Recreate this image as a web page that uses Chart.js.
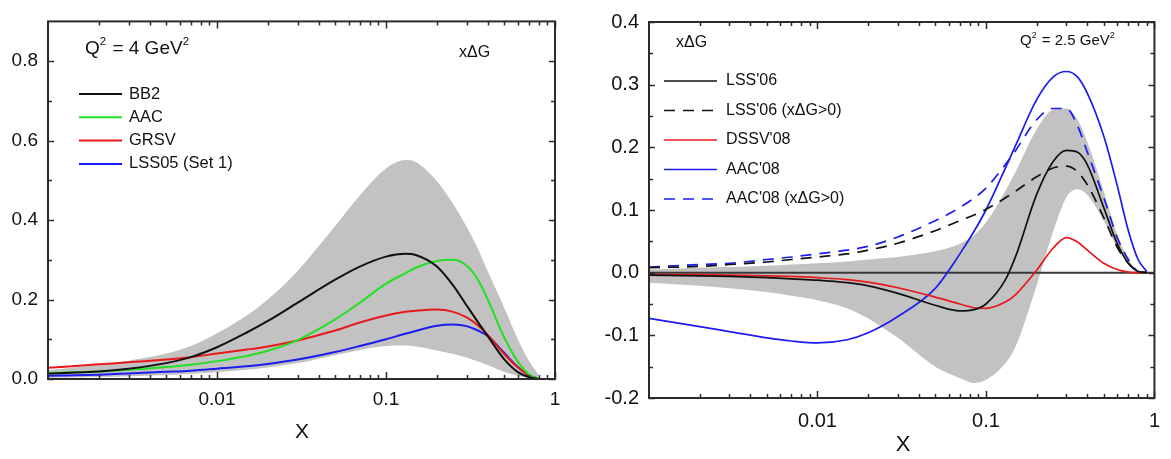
<!DOCTYPE html>
<html>
<head>
<meta charset="utf-8">
<script src="https://cdn.jsdelivr.net/npm/chart.js@4.4.1/dist/chart.umd.min.js"></script>
<style>
html, body { margin: 0; padding: 0; background: #fff; }
#wrap { position: relative; width: 1171px; height: 459px; overflow: hidden; }
#left { position: absolute; left: 0; top: 0; }
#right { position: absolute; left: 585px; top: 0; }
</style>
</head>
<body>
<div id="wrap">
<canvas id="left" width="585" height="459"></canvas>
<canvas id="right" width="586" height="459"></canvas>
</div>
<script>
// ---- left panel: Q^2 = 4 GeV^2 ----
const xLeft = [0.001, 0.002, 0.003, 0.005, 0.007, 0.01, 0.015, 0.02, 0.03, 0.05, 0.07, 0.1,
  0.13, 0.15, 0.2, 0.25, 0.3, 0.35, 0.4, 0.5, 0.6, 0.7, 0.8];
const bb2 = [0.014, 0.019, 0.026, 0.040, 0.055, 0.080, 0.117, 0.146, 0.192, 0.250, 0.283, 0.308,
  0.315, 0.312, 0.283, 0.235, 0.185, 0.143, 0.108, 0.050, 0.018, 0.005, 0];
const aac = [0.015, 0.019, 0.023, 0.030, 0.036, 0.045, 0.058, 0.071, 0.098, 0.150, 0.192, 0.240,
  0.266, 0.280, 0.297, 0.300, 0.285, 0.250, 0.200, 0.105, 0.045, 0.012, 0];
const grsv = [0.028, 0.037, 0.042, 0.049, 0.055, 0.064, 0.074, 0.082, 0.097, 0.122, 0.142, 0.160,
  0.169, 0.172, 0.175, 0.169, 0.155, 0.135, 0.111, 0.063, 0.030, 0.009, 0];
const lss05 = [0.008, 0.011, 0.014, 0.018, 0.021, 0.026, 0.032, 0.038, 0.049, 0.068, 0.083, 0.100,
  0.114, 0.121, 0.134, 0.137, 0.133, 0.122, 0.108, 0.066, 0.031, 0.010, 0];
const bandHiLeft = [0.022, 0.036, 0.046, 0.064, 0.083, 0.115, 0.160, 0.200, 0.272, 0.385, 0.462, 0.530,
  0.551, 0.546, 0.498, 0.440, 0.383, 0.327, 0.271, 0.180, 0.102, 0.046, 0.011];
const bandLoLeft = [0.003, 0.005, 0.007, 0.010, 0.013, 0.017, 0.023, 0.029, 0.040, 0.060, 0.073, 0.083,
  0.084, 0.082, 0.072, 0.063, 0.054, 0.044, 0.035, 0.018, 0.008, 0.002, 0];
const leftYTicks = [0, 0.2, 0.4, 0.6, 0.8];
const leftYMinor = [0.1, 0.3, 0.5, 0.7];

// ---- right panel: Q^2 = 2.5 GeV^2 ----
const xRight = [0.001, 0.002, 0.003, 0.005, 0.007, 0.01, 0.015, 0.02, 0.03, 0.05, 0.07, 0.085, 0.1,
  0.13, 0.15, 0.2, 0.25, 0.3, 0.35, 0.4, 0.5, 0.6, 0.7, 0.8, 0.9];
const lss06 = [-0.004, -0.005, -0.006, -0.008, -0.010, -0.012, -0.016, -0.021, -0.033, -0.052, -0.061, -0.059, -0.050,
  -0.012, 0.026, 0.125, 0.177, 0.195, 0.192, 0.172, 0.104, 0.047, 0.015, 0.002, 0];
const lss06Pos = [0.008, 0.010, 0.013, 0.017, 0.021, 0.025, 0.030, 0.036, 0.047, 0.067, 0.083, 0.092, 0.101,
  0.119, 0.130, 0.153, 0.167, 0.170, 0.161, 0.140, 0.088, 0.041, 0.015, 0.002, 0];
const dssv08 = [-0.003, -0.003, -0.004, -0.005, -0.006, -0.008, -0.011, -0.015, -0.024, -0.039, -0.050, -0.056, -0.057,
  -0.047, -0.035, 0.004, 0.039, 0.056, 0.049, 0.036, 0.015, 0.005, 0.001, 0, 0];
const aac08 = [-0.073, -0.086, -0.094, -0.104, -0.109, -0.112, -0.107, -0.096, -0.070, -0.025, 0.030, 0.066, 0.100,
  0.166, 0.203, 0.276, 0.312, 0.321, 0.312, 0.286, 0.218, 0.140, 0.067, 0.021, 0.002];
const aac08Pos = [0.009, 0.013, 0.015, 0.021, 0.025, 0.030, 0.036, 0.042, 0.057, 0.083, 0.104, 0.119, 0.135,
  0.172, 0.195, 0.244, 0.262, 0.262, 0.234, 0.192, 0.120, 0.057, 0.021, 0.002, 0];
const bandHiRight = [0.005, 0.008, 0.009, 0.011, 0.013, 0.015, 0.018, 0.021, 0.025, 0.034, 0.046, 0.060, 0.080,
  0.130, 0.161, 0.229, 0.260, 0.262, 0.244, 0.208, 0.130, 0.062, 0.021, 0.004, 0];
const bandLoRight = [-0.016, -0.021, -0.025, -0.031, -0.037, -0.044, -0.057, -0.073, -0.104, -0.150, -0.168, -0.176, -0.171,
  -0.145, -0.118, -0.020, 0.065, 0.120, 0.133, 0.124, 0.083, 0.041, 0.015, 0.002, 0];
const rightYTicks = [-0.2, -0.1, 0, 0.1, 0.2, 0.3, 0.4];
const rightYMinor = [-0.15, -0.05, 0.05, 0.15, 0.25, 0.35];

// shared x axis ticks
const xTicks = [0.01, 0.1, 1];
const xMinor = [0.002, 0.003, 0.004, 0.005, 0.006, 0.007, 0.008, 0.009,
  0.02, 0.03, 0.04, 0.05, 0.06, 0.07, 0.08, 0.09,
  0.2, 0.3, 0.4, 0.5, 0.6, 0.7, 0.8, 0.9];

const FONT = "'Liberation Sans', Arial, sans-serif";
const pts = (xs, ys) => xs.map((x, i) => ({ x: x, y: ys[i] }));

function curve(label, xs, ys, color, width, dash) {
  return {
    label: label, data: pts(xs, ys), borderColor: color, borderWidth: width,
    borderDash: dash || [], pointRadius: 0, fill: false, cubicInterpolationMode: 'monotone'
  };
}
function band(xs, ys, fill) {
  return {
    label: '', band: true, data: pts(xs, ys), borderWidth: 0, borderColor: 'rgba(0,0,0,0)',
    backgroundColor: '#c2c2c2', pointRadius: 0, fill: fill, cubicInterpolationMode: 'monotone'
  };
}

// draw text where parts flagged true are superscripts
function richText(ctx, parts, x, y, size) {
  let cx = x;
  parts.forEach(p => {
    const sup = p[1];
    ctx.font = (sup ? size * 0.6 : size) + 'px ' + FONT;
    ctx.fillText(p[0], cx, sup ? y - size * 0.38 : y);
    cx += ctx.measureText(p[0]).width + (sup ? 1 : 0);
  });
}

const framePlugin = {
  id: 'frame',
  afterDatasetDraw(chart, args, o) {
    // zero line sits above the grey band but below the curves
    if (!o.zeroLine || args.index !== chart.data.datasets.length - 2) return;
    const { ctx, chartArea: a, scales: { y } } = chart;
    const py = y.getPixelForValue(0);
    ctx.save();
    ctx.strokeStyle = '#3a3a3a';
    ctx.lineWidth = 2;
    ctx.beginPath(); ctx.moveTo(a.left, py); ctx.lineTo(a.right, py); ctx.stroke();
    ctx.restore();
  },
  afterDraw(chart, args, o) {
    const { ctx, chartArea: a, scales: { x, y } } = chart;
    ctx.save();
    ctx.strokeStyle = '#2b2b2b';
    ctx.lineWidth = 1.5;
    ctx.beginPath();
    const xt = (vals, len) => vals.forEach(v => {
      const px = Math.round(x.getPixelForValue(v)) + 0.5;
      ctx.moveTo(px, a.bottom); ctx.lineTo(px, a.bottom - len);
      ctx.moveTo(px, a.top); ctx.lineTo(px, a.top + len);
    });
    const yt = (vals, len) => vals.forEach(v => {
      const py = Math.round(y.getPixelForValue(v)) + 0.5;
      ctx.moveTo(a.left, py); ctx.lineTo(a.left + len, py);
      ctx.moveTo(a.right, py); ctx.lineTo(a.right - len, py);
    });
    xt(xTicks, 7); xt(xMinor, 4);
    yt(o.yMajor, 6); yt(o.yMinor, 4);
    ctx.stroke();
    ctx.lineWidth = 2;
    ctx.strokeRect(a.left, a.top, a.right - a.left, a.bottom - a.top);

    // legend
    const L = o.legend;
    let row = 0;
    ctx.textBaseline = 'middle';
    ctx.textAlign = 'left';
    chart.data.datasets.forEach(ds => {
      if (ds.band) return;
      const ly = L.y0 + row * L.step;
      ctx.strokeStyle = ds.borderColor;
      ctx.lineWidth = ds.borderWidth;
      ctx.setLineDash(ds.borderDash);
      ctx.beginPath(); ctx.moveTo(L.x0, ly); ctx.lineTo(L.x1, ly); ctx.stroke();
      ctx.setLineDash([]);
      ctx.fillStyle = '#111';
      ctx.font = L.size + 'px ' + FONT;
      ctx.fillText(ds.label, L.tx, ly);
      row++;
    });

    // annotations
    ctx.fillStyle = '#111';
    o.texts.forEach(t => {
      ctx.textAlign = 'left';
      richText(ctx, t.parts, t.x, t.y, t.size);
    });
    ctx.textAlign = 'center';
    ctx.font = o.xTitle.size + 'px ' + FONT;
    ctx.fillText('X', o.xTitle.x, o.xTitle.y);
    ctx.restore();
  }
};

function makeChart(id, datasets, cfg) {
  return new Chart(document.getElementById(id), {
    type: 'line',
    data: { datasets: datasets },
    plugins: [framePlugin],
    options: {
      responsive: false,
      animation: false,
      events: [],
      devicePixelRatio: 1,
      layout: { padding: { left: 0, top: cfg.top, right: cfg.right, bottom: 0 } },
      scales: {
        x: {
          type: 'logarithmic', min: 0.001, max: 1,
          grid: { display: false, drawTicks: false },
          border: { display: false },
          afterBuildTicks: s => { s.ticks = xTicks.map(v => ({ value: v })); },
          afterFit: s => { s.height = cfg.xHeight; },
          ticks: {
            autoSkip: false, maxRotation: 0, padding: cfg.xPad, color: '#111',
            font: { family: FONT, size: cfg.tickSize },
            callback: v => String(v)
          }
        },
        y: {
          type: 'linear', min: cfg.yMin, max: cfg.yMax,
          grid: { drawTicks: false, color: 'rgba(0,0,0,0)' },
          border: { display: false },
          afterBuildTicks: s => { s.ticks = cfg.yMajor.map(v => ({ value: v })); },
          afterFit: s => { s.width = cfg.yWidth; },
          ticks: {
            padding: 10, color: '#111',
            font: { family: FONT, size: cfg.tickSize },
            callback: v => Number(v).toFixed(1)
          }
        }
      },
      plugins: {
        legend: { display: false },
        tooltip: { enabled: false },
        frame: {
          zeroLine: cfg.zeroLine, yMajor: cfg.yMajor, yMinor: cfg.yMinor,
          legend: cfg.legend, texts: cfg.texts, xTitle: cfg.xTitle
        }
      }
    }
  });
}

makeChart('left', [
  curve('BB2', xLeft, bb2, '#111111', 2),
  curve('AAC', xLeft, aac, '#22e022', 2),
  curve('GRSV', xLeft, grsv, '#e8191b', 2),
  curve('LSS05 (Set 1)', xLeft, lss05, '#1c1cf0', 2),
  band(xLeft, bandHiLeft, '+1'),
  band(xLeft, bandLoLeft, false)
], {
  top: 3, right: 30, xHeight: 80, yWidth: 48, xPad: 9, tickSize: 19,
  yMin: 0, yMax: 0.9, yMajor: leftYTicks, yMinor: leftYMinor, zeroLine: false,
  legend: { x0: 79, x1: 122, tx: 129, y0: 94, step: 23.3, size: 16.5 },
  texts: [
    { parts: [['Q', false], ['2', true], [' = 4 GeV', false], ['2', true]], x: 85, y: 49, size: 19 },
    { parts: [['x\u0394G', false]], x: 459, y: 53, size: 16 }
  ],
  xTitle: { x: 302, y: 432, size: 21 }
});

makeChart('right', [
  curve("LSS'06", xRight, lss06, '#111111', 1.7),
  curve("LSS'06 (x\u0394G>0)", xRight, lss06Pos, '#111111', 1.7, [11, 8]),
  curve("DSSV'08", xRight, dssv08, '#e8191b', 1.7),
  curve("AAC'08", xRight, aac08, '#1c1cf0', 1.7),
  curve("AAC'08 (x\u0394G>0)", xRight, aac08Pos, '#1c1cf0', 1.7, [11, 8]),
  band(xRight, bandHiRight, '+1'),
  band(xRight, bandLoRight, false)
], {
  top: 13, right: 6, xHeight: 61, yWidth: 64, xPad: 11, tickSize: 20,
  yMin: -0.2, yMax: 0.4, yMajor: rightYTicks, yMinor: rightYMinor, zeroLine: true,
  legend: { x0: 79, x1: 132, tx: 141, y0: 81, step: 29.5, size: 16 },
  texts: [
    { parts: [['x\u0394G', false]], x: 91, y: 43, size: 16 },
    { parts: [['Q', false], ['2', true], [' = 2.5 GeV', false], ['2', true]], x: 435, y: 41, size: 15 }
  ],
  xTitle: { x: 318, y: 445, size: 22 }
});
</script>
</body>
</html>
